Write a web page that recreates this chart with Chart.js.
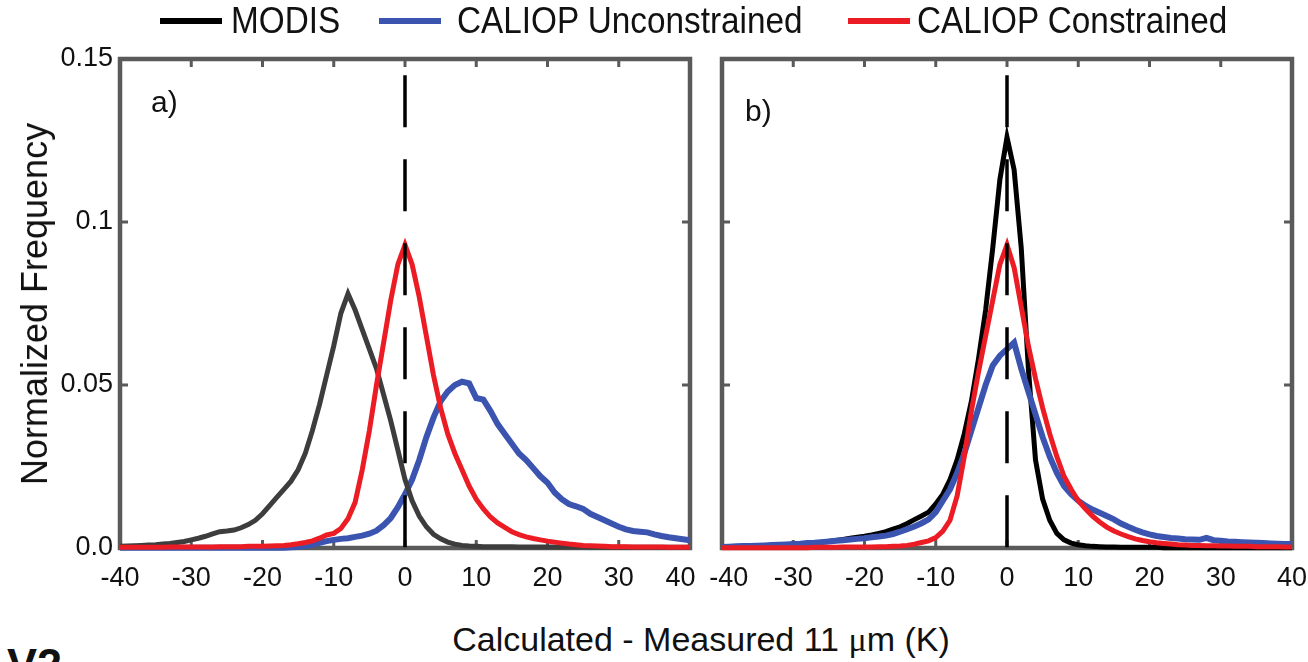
<!DOCTYPE html>
<html>
<head>
<meta charset="utf-8">
<script src="https://cdn.jsdelivr.net/npm/chart.js@4.4.0/dist/chart.umd.min.js"></script>
<style>
  html, body { margin: 0; padding: 0; background: #fff; overflow: hidden; }
  #wrap { position: relative; width: 1308px; height: 662px; overflow: hidden;
          font-family: "Liberation Sans", Arial, sans-serif; color: #111; }
  canvas { position: absolute; top: 0; }
  .txt { position: absolute; white-space: nowrap; line-height: 1; }
  .leg-line { position: absolute; height: 6px; top: 18px; }
</style>
</head>
<body>
<div id="wrap">
  <canvas id="panelA" width="760" height="600" style="left:0"></canvas>
  <canvas id="panelB" width="650" height="600" style="left:680px"></canvas>
  <div id="legend"></div>
  <div class="txt" style="left:35px;top:304px;font-size:36px;transform:translate(-50%,-50%) rotate(-90deg)">Normalized Frequency</div>
  <div class="txt" style="left:701px;top:622px;font-size:34px;transform:translateX(-50%)">Calculated - Measured 11 <span style="font-family:'Liberation Serif',serif">&mu;</span>m (K)</div>
  <div class="txt" style="left:151px;top:87px;font-size:30px">a)</div>
  <div class="txt" style="left:745px;top:96px;font-size:30px">b)</div>
  <div class="txt" style="left:7px;top:642px;font-size:45px;font-weight:bold">V2</div>
</div>
<script>
// bin centres (K)
const bins = [
  -40,-39,-38,-37,-36,-35,-34,-33,-32,-31,
  -30,-29,-28,-27,-26,-25,-24,-23,-22,-21,
  -20,-19,-18,-17,-16,-15,-14,-13,-12,-11,
  -10,-9,-8,-7,-6,-5,-4,-3,-2,-1,
  0,1,2,3,4,5,6,7,8,9,
  10,11,12,13,14,15,16,17,18,19,
  20,21,22,23,24,25,26,27,28,29,
  30,31,32,33,34,35,36,37,38,39,
  40
];

// panel a)
const modisA = [
  0.0005,0.0006,0.0007,0.0008,0.0009,0.001,0.0012,0.0014,0.0017,0.002,
  0.0025,0.003,0.0036,0.0043,0.005,0.0052,0.0055,0.0062,0.0072,0.0085,
  0.0105,0.013,0.0155,0.018,0.0205,0.024,0.029,0.036,0.044,0.053,
  0.062,0.072,0.078,0.073,0.067,0.061,0.055,0.047,0.039,0.030,
  0.021,0.0145,0.0098,0.0065,0.0042,0.0028,0.0018,0.0012,0.0008,0.0006,
  0.0005,0.0004,0.0004,0.0004,0.0004,0.0004,0.0003,0.0003,0.0003,0.0003,
  0.0003,0.0003,0.0003,0.0003,0.0003,0.0003,0.0002,0.0002,0.0002,0.0002,
  0.0002,0.0002,0.0002,0.0002,0.0002,0.0002,0.0002,0.0002,0.0002,0.0002,
  0.0002
];
const unconA = [
  0.0001,0.0001,0.0001,0.0001,0.0001,0.0001,0.0001,0.0001,0.0001,0.0001,
  0.0001,0.0001,0.0001,0.0001,0.0001,0.0001,0.0001,0.0001,0.0001,0.0001,
  0.0001,0.0001,0.0001,0.0001,0.0002,0.0003,0.0006,0.001,0.0016,0.0021,
  0.0025,0.0028,0.003,0.0034,0.0038,0.0044,0.0053,0.007,0.0092,0.0125,
  0.0165,0.021,0.027,0.034,0.040,0.045,0.048,0.050,0.051,0.0505,
  0.046,0.0455,0.042,0.038,0.035,0.032,0.029,0.027,0.0245,0.022,
  0.020,0.017,0.015,0.0135,0.0128,0.012,0.0105,0.0095,0.0085,0.0075,
  0.0065,0.0057,0.0052,0.005,0.0048,0.0042,0.0037,0.0033,0.003,0.0027,
  0.0024
];
const conA = [
  0.0002,0.0002,0.0002,0.0002,0.0002,0.0002,0.0002,0.0003,0.0003,0.0003,
  0.0003,0.0003,0.0003,0.0003,0.0004,0.0004,0.0004,0.0004,0.0005,0.0005,
  0.0005,0.0006,0.0007,0.0008,0.001,0.0013,0.0017,0.0022,0.003,0.004,
  0.0045,0.006,0.009,0.014,0.024,0.036,0.050,0.063,0.076,0.087,
  0.093,0.087,0.077,0.065,0.053,0.043,0.035,0.029,0.024,0.019,
  0.015,0.012,0.0095,0.0077,0.0063,0.005,0.0041,0.0034,0.0029,0.0025,
  0.0021,0.0018,0.0015,0.0012,0.001,0.0008,0.0007,0.0006,0.0005,0.0004,
  0.0004,0.0004,0.0003,0.0003,0.0003,0.0003,0.0003,0.0002,0.0002,0.0002,
  0.0002
];

// panel b)
const modisB = [
  0.0002,0.0002,0.0003,0.0003,0.0004,0.0005,0.0006,0.0007,0.0008,0.0009,
  0.001,0.0012,0.0014,0.0016,0.0018,0.002,0.0023,0.0026,0.003,0.0033,
  0.0036,0.004,0.0045,0.005,0.0058,0.0065,0.0075,0.0087,0.0098,0.011,
  0.0135,0.0165,0.021,0.027,0.035,0.045,0.058,0.073,0.092,0.113,
  0.126,0.116,0.092,0.055,0.027,0.015,0.0085,0.0045,0.0025,0.0015,
  0.001,0.0007,0.0005,0.0004,0.0003,0.0003,0.0002,0.0002,0.0002,0.0002,
  0.0002,0.0002,0.0001,0.0001,0.0001,0.0001,0.0001,0.0001,0.0001,0.0001,
  0.0001,0.0001,0.0001,0.0001,0.0001,0.0001,0.0001,0.0001,0.0001,0.0001,
  0.0001
];
const unconB = [
  0.0003,0.0004,0.0005,0.0006,0.0006,0.0007,0.0008,0.0009,0.001,0.0011,
  0.0012,0.0013,0.0015,0.0016,0.0018,0.002,0.0022,0.0024,0.0026,0.0028,
  0.003,0.0033,0.0035,0.0038,0.0043,0.005,0.0058,0.0066,0.0076,0.0088,
  0.011,0.0145,0.018,0.023,0.029,0.036,0.043,0.050,0.056,0.059,
  0.061,0.063,0.055,0.048,0.041,0.034,0.028,0.023,0.019,0.0165,
  0.0145,0.013,0.0118,0.0108,0.0098,0.0088,0.0075,0.0065,0.0056,0.0048,
  0.0042,0.0037,0.0034,0.0031,0.0029,0.0027,0.0026,0.0025,0.0031,0.0024,
  0.0022,0.002,0.0019,0.0018,0.0017,0.0016,0.0015,0.0014,0.0013,0.0012,
  0.0012
];
const conB = [
  0.0001,0.0001,0.0001,0.0001,0.0001,0.0001,0.0001,0.0001,0.0001,0.0001,
  0.0001,0.0001,0.0001,0.0002,0.0002,0.0002,0.0002,0.0003,0.0003,0.0003,
  0.0003,0.0003,0.0004,0.0004,0.0005,0.0006,0.0008,0.0012,0.0017,0.0022,
  0.0032,0.0052,0.0085,0.016,0.028,0.042,0.054,0.065,0.076,0.087,
  0.093,0.086,0.074,0.062,0.052,0.043,0.035,0.028,0.022,0.018,
  0.0145,0.012,0.0098,0.008,0.0064,0.0052,0.0043,0.0035,0.0028,0.0023,
  0.0019,0.0016,0.0014,0.0012,0.001,0.0009,0.0008,0.0008,0.0007,0.0007,
  0.0006,0.0006,0.0005,0.0005,0.0005,0.0004,0.0004,0.0004,0.0004,0.0003,
  0.0003
];

// dashed reference line at zero
const zeroLineX = [0, 0];
const zeroLineY = [0.145, 0];

const xTickValues = [-40, -30, -20, -10, 0, 10, 20, 30, 40];
// the two labels that meet between the panels are nudged apart with spaces
const xTickLabelsA = ['-40', '-30', '-20', '-10', '0', '10', '20', '30', '40\u2002\u2009'];
const xTickLabelsB = ['\u2002-40', '-30', '-20', '-10', '0', '10', '20', '30', '40'];
const yTickValues = [0, 0.05, 0.1, 0.15];
const yTickLabels = ['0.0', '0.05', '0.1', '0.15'];

const seriesNames = ['MODIS', 'CALIOP Unconstrained', 'CALIOP Constrained'];
const seriesColors = ['#000000', '#3a54b0', '#ec1c24'];

// legend across the top
const legendLines = [160, 379, 848];
const legendTexts = [231, 457, 917];
const legend = document.getElementById('legend');
seriesNames.forEach((name, i) => {
  const ln = document.createElement('div');
  ln.className = 'leg-line';
  ln.style.left = legendLines[i] + 'px';
  ln.style.width = '62px';
  ln.style.background = seriesColors[i];
  legend.appendChild(ln);
  const t = document.createElement('div');
  t.className = 'txt';
  t.style.left = legendTexts[i] + 'px';
  t.style.top = '2px';
  t.style.fontSize = '37px';
  t.style.transform = 'scaleX(0.9)';
  t.style.transformOrigin = 'left top';
  t.textContent = name;
  legend.appendChild(t);
});

// box + inward ticks, drawn under the curves
const framePlugin = {
  id: 'frame',
  beforeDatasetsDraw(chart) {
    const {ctx, chartArea: a, scales: {x, y}} = chart;
    ctx.save();
    ctx.strokeStyle = '#5a5a5a';
    ctx.lineWidth = 3;
    ctx.beginPath();
    xTickValues.slice(1, -1).forEach(v => {
      const px = x.getPixelForValue(v);
      ctx.moveTo(px, a.top); ctx.lineTo(px, a.top + 8);
      ctx.moveTo(px, a.bottom); ctx.lineTo(px, a.bottom - 8);
    });
    yTickValues.slice(1, -1).forEach(v => {
      const py = y.getPixelForValue(v);
      ctx.moveTo(a.left, py); ctx.lineTo(a.left + 8, py);
      ctx.moveTo(a.right, py); ctx.lineTo(a.right - 8, py);
    });
    ctx.stroke();
    ctx.lineWidth = 4.5;
    ctx.strokeRect(a.left, a.top, a.right - a.left, a.bottom - a.top);
    ctx.restore();
  }
};

function curve(data, color, width) {
  return {data, borderColor: color, borderWidth: width, pointRadius: 0, tension: 0, clip: false};
}

function zeroLine() {
  return {
    data: zeroLineX.map((x, i) => ({x, y: zeroLineY[i]})),
    borderColor: '#000', borderWidth: 3.5, borderDash: [52, 32],
    pointRadius: 0, clip: false
  };
}

const tickFont = {family: '"Liberation Sans", Arial, sans-serif', size: 27};

function makePanel(id, datasets, xLabels, showY, yWidth, pad) {
  new Chart(document.getElementById(id), {
    type: 'line',
    data: {labels: bins, datasets},
    options: {
      responsive: false,
      animation: false,
      events: [],
      layout: {padding: pad},
      plugins: {legend: {display: false}, tooltip: {enabled: false}},
      scales: {
        x: {
          type: 'linear', min: -40, max: 40,
          afterBuildTicks: s => { s.ticks = xTickValues.map(value => ({value})); },
          afterFit: s => { s.height = 52; },
          grid: {display: false, drawTicks: false},
          border: {display: false},
          ticks: {
            color: '#111', font: tickFont, padding: 14, maxRotation: 0, autoSkip: false,
            callback: v => xLabels[xTickValues.indexOf(v)]
          }
        },
        y: {
          display: showY,
          min: 0, max: 0.15,
          afterBuildTicks: s => { s.ticks = yTickValues.map(value => ({value})); },
          afterFit: s => { s.width = yWidth; },
          grid: {display: false, drawTicks: false},
          border: {display: false},
          ticks: {
            color: '#111', font: tickFont, padding: 7,
            callback: v => yTickLabels[yTickValues.indexOf(v)]
          }
        }
      }
    },
    plugins: [framePlugin]
  });
}

// first dataset is painted last (on top)
makePanel('panelA', [
  zeroLine(),
  curve(conA, seriesColors[2], 5),
  curve(modisA, '#3d3d3d', 5),
  curve(unconA, seriesColors[1], 6)
], xTickLabelsA, true, 120, {top: 59, right: 70, left: 0, bottom: 0});

makePanel('panelB', [
  zeroLine(),
  curve(conB, seriesColors[2], 5),
  curve(unconB, seriesColors[1], 6),
  curve(modisB, seriesColors[0], 5)
], xTickLabelsB, false, 0, {top: 59, right: 38, left: 42, bottom: 0});
</script>
</body>
</html>
